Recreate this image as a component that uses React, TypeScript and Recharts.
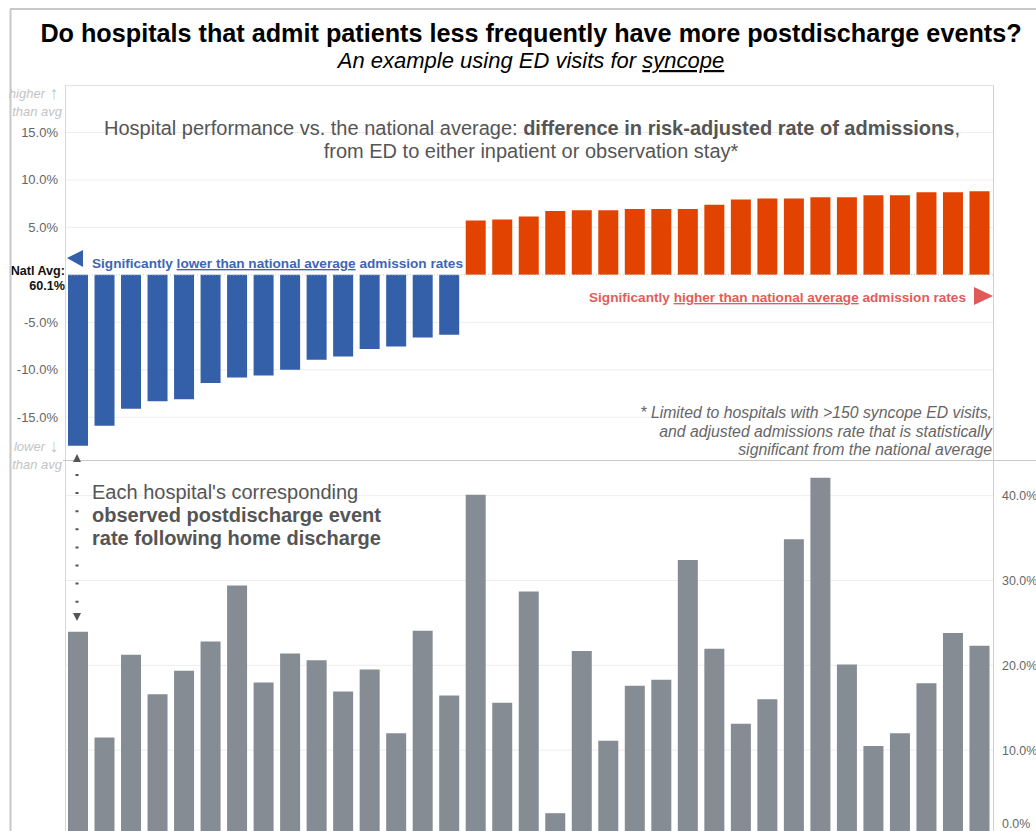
import { BarChart, Bar, Cell, XAxis, YAxis, CartesianGrid, ReferenceLine } from 'recharts';

const hospitals = Array.from({ length: 35 }, (_, i) => `Hospital ${i + 1}`);

// difference vs national average in risk-adjusted admission rate (%)
const admissionDiff = [
  -18.0, -15.9, -14.1, -13.3, -13.1, -11.4, -10.8, -10.6, -10.0, -8.95, -8.6, -7.8, -7.55, -6.6, -6.3,
  5.74, 5.84, 6.16, 6.72, 6.82, 6.82, 6.93, 6.93, 6.93, 7.38, 7.94, 8.05, 8.05, 8.18, 8.18, 8.39, 8.39, 8.71,
  8.71, 8.81,
];

// observed postdischarge event rate after home discharge (%)
const postdischargeRate = [
  23.96, 11.5, 21.25, 16.6, 19.36, 22.8, 29.4, 17.98, 21.4, 20.6, 16.9, 19.5, 12.0, 24.08, 16.45, 40.1, 15.6,
  28.7, 2.57, 21.7, 11.1, 17.6, 18.3, 32.4, 21.96, 13.1, 16.0, 34.85, 42.1, 20.1, 10.5, 12.0, 17.9, 23.8, 22.3,
];

const topTicks = [-15, -10, -5, 0, 5, 10, 15];
const bottomTicks = [0, 10, 20, 30, 40];
const natlAvgLabel = ['Natl Avg:', '60.1%'];

const FONT = 'Arial, "Liberation Sans", sans-serif';
const BLUE = '#3460aa';
const ORANGE = '#e34300';
const GREY_BAR = '#858c93';

const data = hospitals.map((h, i) => ({ hospital: h, adm: admissionDiff[i], post: postdischargeRate[i] }));

function LeftTick(props: any) {
  const { x, y, payload } = props;
  if (payload.value === 0) {
    return (
      <text x={x + 7} y={y} textAnchor="end" fontFamily={FONT} fontSize={12.6} fontWeight="bold" fill="#111">
        <tspan x={x + 7} dy={0}>{natlAvgLabel[0]}</tspan>
        <tspan x={x + 7} dy={15}>{natlAvgLabel[1]}</tspan>
      </text>
    );
  }
  return (
    <text x={x} y={y + 4.5} textAnchor="end" fontFamily={FONT} fontSize={13} fill="#666">
      {payload.value.toFixed(1)}%
    </text>
  );
}

function RightTick(props: any) {
  const { x, y, payload } = props;
  const dy = payload.value === 0 ? -7 : 4.5;
  return (
    <text x={x} y={y + dy} textAnchor="start" fontFamily={FONT} fontSize={12.4} fill="#666">
      {payload.value.toFixed(1)}%
    </text>
  );
}

export default function App() {
  return (
    <div style={{ position: 'absolute', left: 0, top: 0, width: 1036, height: 831, overflow: 'hidden', background: '#fff', fontFamily: FONT }}>
      <div style={{ position: 'absolute', left: 0, top: 0 }}>
        <BarChart width={1036} height={460} data={data} margin={{ top: 85, right: 43, left: 5, bottom: 0 }} barSize={20}>
          <CartesianGrid vertical={false} stroke="#ededed" horizontalValues={[-15, -10, -5, 5, 10, 15]} />
          <XAxis dataKey="hospital" hide />
          <YAxis
            domain={[-19.5, 20]}
            ticks={topTicks}
            width={60}
            axisLine={false}
            tickLine={false}
            tickSize={0}
            tickMargin={7}
            tick={<LeftTick />}
            interval={0}
          />
          <ReferenceLine y={0} stroke="#c8c8c8" strokeDasharray="1 2" />
          <Bar dataKey="adm" isAnimationActive={false}>
            {data.map((d) => (
              <Cell key={d.hospital} fill={d.adm < 0 ? BLUE : ORANGE} />
            ))}
          </Bar>
        </BarChart>
      </div>
      <div style={{ position: 'absolute', left: 0, top: 460 }}>
        <BarChart width={1036} height={375} data={data} margin={{ top: 0, right: 0, left: 65, bottom: 0 }} barSize={20}>
          <CartesianGrid vertical={false} stroke="#ededed" horizontalValues={[10, 20, 30, 40]} />
          <XAxis dataKey="hospital" hide />
          <YAxis
            orientation="right"
            domain={[0, 44.2]}
            ticks={bottomTicks}
            width={43}
            axisLine={false}
            tickLine={false}
            tickSize={0}
            tickMargin={9}
            tick={<RightTick />}
            interval={0}
          />
          <Bar dataKey="post" fill={GREY_BAR} isAnimationActive={false} />
        </BarChart>
      </div>
      <svg width={1036} height={831} style={{ position: 'absolute', left: 0, top: 0, pointerEvents: 'none' }} fontFamily={FONT}>
        {/* frame */}
        <line x1={10} y1={9} x2={1036} y2={9} stroke="#c8c8c8" strokeWidth={2} />
        <line x1={10.5} y1={9} x2={10.5} y2={831} stroke="#c8c8c8" strokeWidth={2} />
        <line x1={65} y1={85.5} x2={993} y2={85.5} stroke="#e2e2e2" />
        <line x1={65.5} y1={85} x2={65.5} y2={831} stroke="#d8d8d8" />
        <line x1={993.5} y1={85} x2={993.5} y2={831} stroke="#d0d0d0" />
        <line x1={63} y1={460.5} x2={1036} y2={460.5} stroke="#c8c8c8" />

        {/* titles */}
        <text x={531} y={42} textAnchor="middle" fontSize={25.2} fontWeight="bold" fill="#000">
          Do hospitals that admit patients less frequently have more postdischarge events?
        </text>
        <text x={531} y={68} textAnchor="middle" fontSize={22} fontStyle="italic" fill="#000">
          An example using ED visits for <tspan style={{ textDecoration: 'underline' }}>syncope</tspan>
        </text>

        <text x={532} y={135} textAnchor="middle" fontSize={20} fill="#555">
          Hospital performance vs. the national average: <tspan fontWeight="bold">difference in risk-adjusted rate of admissions</tspan>,
        </text>
        <text x={531} y={158} textAnchor="middle" fontSize={20} fill="#555">
          from ED to either inpatient or observation stay*
        </text>

        {/* higher / lower hints */}
        <text x={45} y={98} textAnchor="end" fontSize={13} fontStyle="italic" fill="#c4c4c4">higher</text>
        <text x={54} y={99} textAnchor="middle" fontSize={18} fill="#c4c4c4">↑</text>
        <text x={62} y={116} textAnchor="end" fontSize={13} fontStyle="italic" fill="#c4c4c4">than avg</text>
        <text x={45} y={451} textAnchor="end" fontSize={13} fontStyle="italic" fill="#c4c4c4">lower</text>
        <text x={54} y={452} textAnchor="middle" fontSize={18} fill="#c4c4c4">↓</text>
        <text x={62} y={469} textAnchor="end" fontSize={13} fontStyle="italic" fill="#c4c4c4">than avg</text>

        {/* significance labels */}
        <polygon points="67,258 83,250 83,267" fill={BLUE} />
        <text x={92} y={268} fontSize={13.6} fontWeight="bold" fill="#3d66b2">
          Significantly <tspan style={{ textDecoration: 'underline' }}>lower than national average</tspan> admission rates
        </text>
        <polygon points="993,296 974,287 974,305" fill="#e05a5a" />
        <text x={966} y={302} textAnchor="end" fontSize={13.6} fontWeight="bold" fill="#e25c5c">
          Significantly <tspan style={{ textDecoration: 'underline' }}>higher than national average</tspan> admission rates
        </text>

        {/* footnote */}
        <text textAnchor="end" fontSize={15.8} fontStyle="italic" fill="#666">
          <tspan x={992} y={418}>* Limited to hospitals with &gt;150 syncope ED visits,</tspan>
          <tspan x={992} y={437}>and adjusted admissions rate that is statistically</tspan>
          <tspan x={992} y={455}>significant from the national average</tspan>
        </text>

        {/* link arrow between panels */}
        <polygon points="73,462 81,462 77,454" fill="#555" />
        <line x1={77} y1={474} x2={77} y2={606} stroke="#555" strokeWidth={3} strokeDasharray="2 16.1" />
        <polygon points="73,613 81,613 77,621" fill="#555" />

        <text fontSize={20} fill="#555">
          <tspan x={92} y={499}>Each hospital's corresponding</tspan>
          <tspan x={92} y={522} fontWeight="bold">observed postdischarge event</tspan>
          <tspan x={92} y={545} fontWeight="bold">rate following home discharge</tspan>
        </text>
      </svg>
    </div>
  );
}
